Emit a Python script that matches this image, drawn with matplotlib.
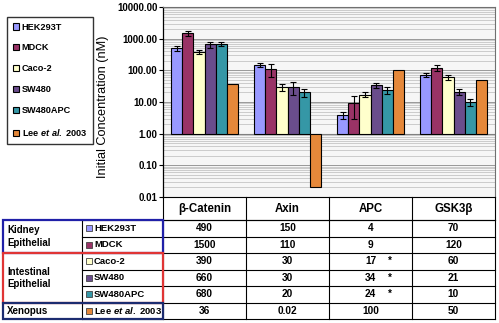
import matplotlib
matplotlib.use("Agg")
import matplotlib.pyplot as plt
import numpy as np
from matplotlib.lines import Line2D
from matplotlib.patches import Rectangle
import matplotlib.transforms as mtrans
from matplotlib.ticker import FixedLocator, LogLocator, NullFormatter

plt.rcParams['font.family'] = ['Liberation Sans', 'DejaVu Sans']
plt.rcParams['font.weight'] = 'bold'
plt.rcParams['mathtext.fontset'] = 'custom'
plt.rcParams['mathtext.it'] = 'Liberation Sans:italic:bold'
plt.rcParams['mathtext.rm'] = 'Liberation Sans:bold'

categories = ['β-Catenin', 'Axin', 'APC', 'GSK3β']
series = ['HEK293T', 'MDCK', 'Caco-2', 'SW480', 'SW480APC', 'Lee $\\it{et\\ al.}$ 2003']
colors = ['#9999FF', '#993366', '#FFFFCC', '#6A4D8C', '#3597A6', '#E5883A']
values = [
    [490, 150, 4, 70],
    [1500, 110, 9, 120],
    [390, 30, 17, 60],
    [660, 30, 34, 21],
    [680, 20, 24, 10],
    [36, 0.02, 100, 50],
]
errors = [
    [90, 25, 1.0, 10],
    [300, 50, 6, 25],
    [50, 8, 3, 12],
    [140, 13, 6, 4],
    [110, 6, 6, 2.5],
    None,
]
stars = [[False, False, False, False],
         [False, False, False, False],
         [False, False, True, False],
         [False, False, True, False],
         [False, False, True, False],
         [False, False, False, False]]
groups = [('Kidney\nEpithelial', 0, 2, '#2020A8'),
          ('Intestinal\nEpithelial', 2, 3, '#E03535'),
          ('Xenopus', 5, 1, '#1C2C70')]

W, H = 499, 323
fig = plt.figure(figsize=(W / 100, H / 100), dpi=100)

def fx(px):
    return px / W

def fy(py):
    return 1 - py / H

ax_left, ax_right, ax_top, ax_bot = 163, 495, 7, 197
ax = fig.add_axes([fx(ax_left), fy(ax_bot), fx(ax_right - ax_left), (ax_bot - ax_top) / H])
ax.set_yscale('log')
ax.set_ylim(0.01, 10000)
ax.set_xlim(-0.5, len(categories) - 0.5)
ax.set_facecolor('#F6F6F6')

n = len(series)
bw = 0.8 / n
x = np.arange(len(categories))
base = 1.0
for i in range(n):
    pos = x - 0.4 + bw * (i + 0.5)
    vals = np.array(values[i], dtype=float)
    ax.bar(pos, vals - base, bottom=base, width=bw, color=colors[i], edgecolor='black',
           linewidth=0.8, label=series[i], zorder=3)
    if errors[i] is not None:
        ax.errorbar(pos, vals, yerr=errors[i], fmt='none', ecolor='black', elinewidth=0.8,
                    capsize=2.5, capthick=0.8, zorder=4)

ax.yaxis.set_major_locator(FixedLocator([0.01, 0.1, 1, 10, 100, 1000, 10000]))
ax.yaxis.set_minor_locator(LogLocator(base=10, subs=np.arange(2, 10)))
ax.yaxis.set_minor_formatter(NullFormatter())
ax.set_yticklabels(['%.2f' % v for v in [0.01, 0.1, 1, 10, 100, 1000, 10000]])
ax.tick_params(axis='y', which='major', labelsize=7, length=3, width=0.8, pad=1)
ax.tick_params(axis='y', which='minor', length=0)
ax.set_xticks([])
ax.grid(True, which='minor', axis='y', color='#C4C4C4', linewidth=0.6, zorder=0)
ax.grid(True, which='major', axis='y', color='#999999', linewidth=0.7, zorder=0)
ax.axhline(1, color='#808080', linewidth=0.8, zorder=2)
ax.set_axisbelow(True)
for s in ['top', 'right']:
    ax.spines[s].set_color('#707070')
ax.spines['bottom'].set_color('black')
ax.spines['left'].set_color('black')
ax.spines['left'].set_linewidth(0.9)
ax.set_ylabel('Initial Concentration (nM)', fontsize=9.2)
ax.yaxis.set_label_coords(-0.163, 0.475)

leg = fig.legend(loc='upper left', bbox_to_anchor=(fx(7), fy(17)), fontsize=6.6,
                 frameon=True, fancybox=False, edgecolor='black', labelspacing=1.3,
                 handlelength=0.7, handleheight=0.7, handletextpad=0.3,
                 borderpad=0.6, borderaxespad=0)
leg.get_frame().set_linewidth(1.0)

# ---------- table ----------
bt = mtrans.blended_transform_factory(ax.transData, fig.transFigure)
row_top = 220
row_h = 16.5
header_y = (ax_bot + row_top) / 2 + 0.5

def fline(x0, x1, y0, y1, color='black', lw=0.8, tr=None):
    fig.add_artist(Line2D([x0, x1], [y0, y1], transform=tr if tr else fig.transFigure,
                          color=color, linewidth=lw))

for j, c in enumerate(categories):
    fig.text(j, fy(header_y), c, transform=bt, ha='center', va='center', fontsize=8.3)

table_bottom = row_top + row_h * n
for k in range(len(categories) + 1):
    fline(k - 0.5, k - 0.5, fy(ax_bot), fy(table_bottom), tr=bt)
fline(fx(ax_left), fx(ax_right), fy(row_top), fy(row_top))
for r in range(n + 1):
    yy = row_top + r * row_h
    fline(fx(82), fx(ax_right), fy(yy), fy(yy))
fline(fx(82), fx(82), fy(row_top), fy(table_bottom))

for r in range(n):
    yc = row_top + (r + 0.5) * row_h
    fig.add_artist(Rectangle((fx(86), fy(yc + 3)), fx(6), 6 / H, transform=fig.transFigure,
                             facecolor=colors[r], edgecolor='#444444', linewidth=0.6))
    fig.text(fx(94), fy(yc), series[r], ha='left', va='center', fontsize=6.8)
    for j in range(len(categories)):
        fig.text(j, fy(yc), '%g' % values[r][j], transform=bt, ha='center', va='center', fontsize=7.3)
        if stars[r][j]:
            fig.text(j + 0.23, fy(yc), '*', transform=bt, ha='center', va='center', fontsize=7)

for name, start, cnt, col in groups:
    y0 = row_top + start * row_h
    y1 = y0 + cnt * row_h
    fig.add_artist(Rectangle((fx(3), fy(y1)), fx(ax_left - 3), (y1 - y0) / H,
                             transform=fig.transFigure, facecolor='none', edgecolor=col,
                             linewidth=1.6, zorder=5))
    fig.text(fx(7), fy((y0 + y1) / 2), name, ha='left', va='center', fontsize=7,
             linespacing=1.3)

fig.savefig('out.png', dpi=100)
